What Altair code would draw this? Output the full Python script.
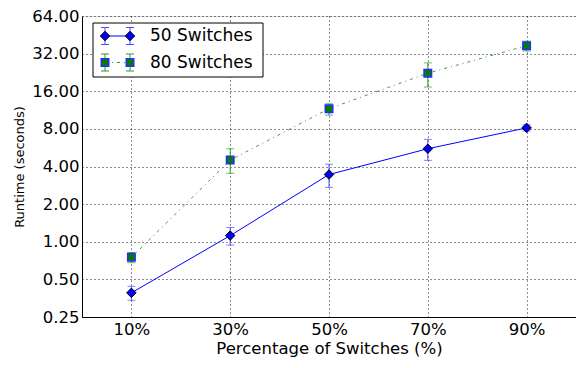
import altair as alt
import pandas as pd

# ---- data ----
pct = [10, 30, 50, 70, 90]
series_names = ["50 Switches", "80 Switches"]
rt50 = [0.39, 1.12, 3.45, 5.55, 8.15]
lo50 = [0.34, 0.94, 2.72, 4.48, 7.70]
hi50 = [0.44, 1.30, 4.17, 6.60, 8.60]
rt80 = [0.75, 4.50, 11.6, 22.3, 37.0]
lo80 = [0.68, 3.53, 10.3, 17.3, 33.6]
hi80 = [0.82, 5.54, 12.7, 27.0, 40.3]
y_ticks = [0.25, 0.5, 1, 2, 4, 8, 16, 32, 64]
x_ticks = [10, 30, 50, 70, 90]

FONT = "DejaVu Sans"
BLUE = "#0000ff"
GREEN = "#007f00"
BAR_BLUE = "#4b4bff"
BAR_GREEN = "#2a9a2a"
LINE_GREEN = "#2f9a2f"
SQ_EDGE = "#2b2bff"
XT = "Percentage of Switches (%)"
YT = "Runtime (seconds)"

df50 = pd.DataFrame({"pct": pct, "rt": rt50, "lo": lo50, "hi": hi50, "s": series_names[0]})
df80 = pd.DataFrame({"pct": pct, "rt": rt80, "lo": lo80, "hi": hi80, "s": series_names[1]})

xs = alt.Scale(domain=[0, 100], nice=False, zero=False)
ys = alt.Scale(type="log", base=2, domain=[0.25, 64], nice=False)

x_axis = alt.Axis(values=x_ticks, labelExpr="datum.value + '%'", title=XT,
                  grid=True, gridColor="black", gridDash=[1, 3], gridOpacity=0.9,
                  ticks=False, tickSize=0, labelPadding=4, titlePadding=3,
                  labelFontSize=16.5, titleFontSize=16.5, titleFontWeight="normal",
                  labelColor="black", titleColor="black", domainColor="black",
                  labelFont=FONT, titleFont=FONT)
y_axis = alt.Axis(values=y_ticks, format=".2f", title=YT,
                  grid=True, gridColor="black", gridDash=[1, 3], gridOpacity=0.9,
                  ticks=False, tickSize=0, labelPadding=3, titlePadding=5,
                  labelFontSize=16.5, titleFontSize=13, titleFontWeight="normal",
                  labelColor="black", titleColor="black", domainColor="black",
                  labelFont=FONT, titleFont=FONT)

X = alt.X("pct:Q", scale=xs, axis=x_axis, title=XT)
Y = alt.Y("rt:Q", scale=ys, axis=y_axis, title=YT)

def series_layers(df, color, bar_color, dash, shape, size, fill, stroke, sw, line_opacity):
    line_props = dict(color=color, strokeWidth=1, opacity=line_opacity)
    if dash:
        line_props["strokeDash"] = dash
    line = alt.Chart(df).mark_line(**line_props).encode(x=X, y=Y)
    bar = alt.Chart(df).mark_rule(color=bar_color, strokeWidth=1).encode(
        x=X, y=alt.Y("lo:Q", scale=ys, axis=y_axis, title=YT), y2=alt.Y2("hi:Q", title=YT))
    cap_lo = alt.Chart(df).mark_tick(color=bar_color, thickness=1, size=8, orient="horizontal").encode(
        x=X, y=alt.Y("lo:Q", scale=ys, axis=y_axis, title=YT))
    cap_hi = alt.Chart(df).mark_tick(color=bar_color, thickness=1, size=8, orient="horizontal").encode(
        x=X, y=alt.Y("hi:Q", scale=ys, axis=y_axis, title=YT))
    pts = alt.Chart(df).mark_point(shape=shape, size=size, filled=True, fill=fill, stroke=stroke,
                                   strokeWidth=sw, opacity=1).encode(x=X, y=Y)
    return [line, bar, cap_lo, cap_hi, pts]

layers = []
layers += series_layers(df50, BLUE, BAR_BLUE, None, "diamond", 90, BLUE, "black", 1, 1)
layers += series_layers(df80, LINE_GREEN, BAR_GREEN, [3, 4, 1, 4], "square", 56, GREEN, SQ_EDGE, 1.5, 0.95)

# ---- legend (drawn as a box with sample entries) ----
leg_df = pd.DataFrame({"name": series_names})
box = alt.Chart(leg_df.head(1)).mark_rect(fill="white", stroke="black", strokeWidth=1).encode(
    x=alt.value(11), x2=alt.value(181), y=alt.value(7), y2=alt.value(61))
layers.append(box)

def legend_entry(i, y, color, bar_color, dash, shape, size, fill, stroke, sw):
    d = leg_df.iloc[[i]]
    out = []
    lp = dict(color=color, strokeWidth=1)
    if dash:
        lp["strokeDash"] = dash
    out.append(alt.Chart(d).mark_rule(**lp).encode(x=alt.value(23), x2=alt.value(48), y=alt.value(y)))
    for mx in (23, 48):
        out.append(alt.Chart(d).mark_rule(color=bar_color, strokeWidth=1).encode(
            x=alt.value(mx), y=alt.value(y - 8.5), y2=alt.value(y + 8.5)))
        for cy in (y - 8.5, y + 8.5):
            out.append(alt.Chart(d).mark_rule(color=bar_color, strokeWidth=1).encode(
                x=alt.value(mx - 4), x2=alt.value(mx + 4), y=alt.value(cy)))
        out.append(alt.Chart(d).mark_point(shape=shape, size=size, filled=True, fill=fill,
                                           stroke=stroke, strokeWidth=sw, opacity=1).encode(
            x=alt.value(mx), y=alt.value(y)))
    out.append(alt.Chart(d).mark_text(align="left", baseline="middle", font=FONT, fontSize=17,
                                      color="black").encode(
        x=alt.value(68), y=alt.value(y), text="name:N"))
    return out

layers += legend_entry(0, 20, BLUE, BAR_BLUE, None, "diamond", 90, BLUE, "black", 1)
layers += legend_entry(1, 46.5, LINE_GREEN, BAR_GREEN, [3, 4, 1, 4], "square", 56, GREEN, SQ_EDGE, 1.5)

chart = alt.layer(*layers).properties(
    width=494, height=301,
    autosize=alt.AutoSizeParams(type="none"),
    padding={"left": 74, "top": 8, "right": 0, "bottom": 42},
).configure_view(stroke="black", strokeWidth=1).configure(background="white")

chart.save("out.html", embed_options={"renderer": "svg", "actions": False})
